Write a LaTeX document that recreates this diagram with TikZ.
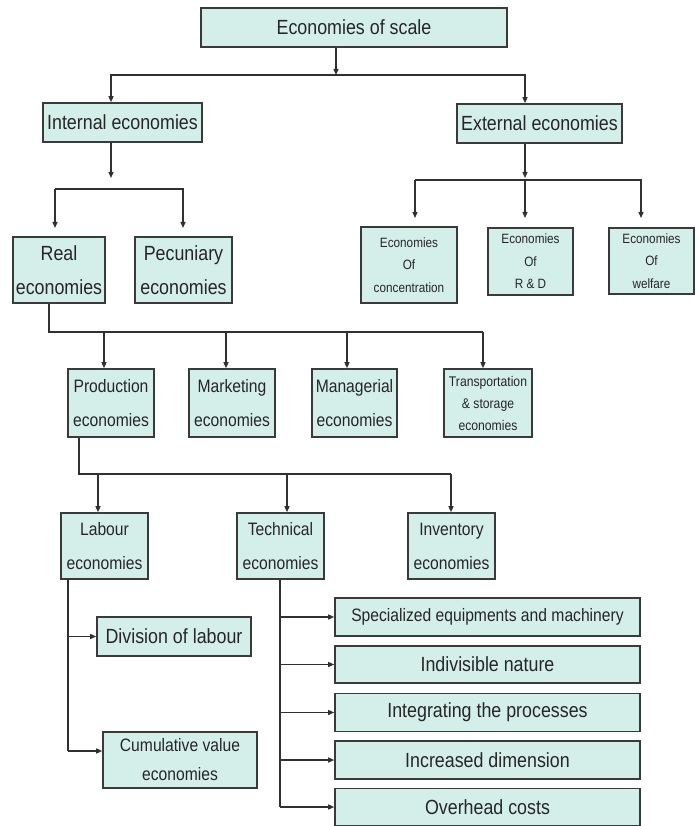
\documentclass[tikz,border=0pt]{standalone}
\usepackage{fontspec}
\setmainfont[FakeStretch=0.87]{Liberation Sans}
\usetikzlibrary{arrows.meta}
\definecolor{boxfill}{HTML}{D4EFEA}
\definecolor{boxline}{HTML}{3A3A3A}
\definecolor{conn}{HTML}{303030}
\tikzset{
  box/.style={draw=boxline, fill=boxfill, line width=1.6pt, inner sep=0pt, align=center, text=black!85},
  bigf/.style={font=\fontsize{20.5}{34}\selectfont},
  midf/.style={font=\fontsize{18}{34}\selectfont},
  smallf/.style={font=\fontsize{13.5}{22.5}\selectfont},
  line/.style={draw=conn, line width=1.3pt},
  arr/.style={line, -{Triangle[length=6pt,width=5pt]}}
}
\begin{document}
\begin{tikzpicture}[x=1pt,y=-1pt]
\useasboundingbox (0,0) rectangle (698,826);
% nodes
\node[box,bigf,minimum width=306pt,minimum height=39pt] (top) at (354,27.5) {Economies of scale};
\node[box,bigf,minimum width=159pt,minimum height=39pt] (intl) at (122.5,122.5) {Internal economies};
\node[box,bigf,minimum width=165pt,minimum height=39pt] (ext) at (539.5,123.5) {External economies};
\node[box,bigf,minimum width=92pt,minimum height=66pt] (real) at (59,270) {Real\\economies};
\node[box,bigf,minimum width=97pt,minimum height=66pt] (pec) at (183.5,270) {Pecuniary\\economies};
\node[box,smallf,minimum width=96pt,minimum height=76pt] (conc) at (409,265) {Economies\\Of\\concentration};
\node[box,smallf,minimum width=85pt,minimum height=67pt] (rd) at (530.5,261.5) {Economies\\Of\\R \& D};
\node[box,smallf,minimum width=85pt,minimum height=66pt] (welf) at (651.5,261) {Economies\\Of\\welfare};
\node[box,midf,minimum width=86pt,minimum height=68pt] (prod) at (111,403) {Production\\economies};
\node[box,midf,minimum width=86pt,minimum height=68pt] (mkt) at (232,403) {Marketing\\economies};
\node[box,midf,minimum width=85pt,minimum height=68pt] (mgr) at (354.5,403) {Managerial\\economies};
\node[box,font=\fontsize{14}{22}\selectfont,minimum width=88pt,minimum height=68pt] (trans) at (488,403) {Transportation\\\& storage\\economies};
\node[box,midf,minimum width=87pt,minimum height=66pt] (lab) at (104.5,546) {Labour\\economies};
\node[box,midf,minimum width=87pt,minimum height=66pt] (tech) at (280.5,546) {Technical\\economies};
\node[box,midf,minimum width=87pt,minimum height=66pt] (inv) at (451.5,546) {Inventory\\economies};
\node[box,bigf,minimum width=154pt,minimum height=39pt] (div) at (174,636.5) {Division of labour};
\node[box,font=\fontsize{18}{29}\selectfont,minimum width=154pt,minimum height=56pt] (cum) at (180,760) {Cumulative value\\economies};
\node[box,midf,minimum width=305pt,minimum height=38pt] (s1) at (487.5,617) {Specialized equipments and machinery};
\node[box,bigf,minimum width=305pt,minimum height=37pt] (s2) at (487.5,664.5) {Indivisible nature};
\node[box,bigf,minimum width=305pt,minimum height=38pt] (s3) at (487.5,712.5) {Integrating the processes};
\node[box,bigf,minimum width=305pt,minimum height=38pt] (s4) at (487.5,760) {Increased dimension};
\node[box,bigf,minimum width=305pt,minimum height=37pt] (s5) at (487.5,807) {Overhead costs};
% junction coordinates
\coordinate (j0) at (336,75);
\coordinate (jl) at (111,75);
\coordinate (ji) at (111,178);
\coordinate (jil) at (55,189);
\coordinate (jir) at (183,189);
\coordinate (je) at (525,178);
\coordinate (jel) at (415,180);
\coordinate (jem) at (525,180);
\coordinate (jer) at (641,180);
\coordinate (jr) at (49,332);
\coordinate (jr1) at (104,332);
\coordinate (jr2) at (226,332);
\coordinate (jr3) at (347,332);
\coordinate (jr4) at (483,332);
\coordinate (jp) at (79,474);
\coordinate (jp1) at (98,474);
\coordinate (jp2) at (287,474);
\coordinate (jp3) at (451,474);
\coordinate (jlab) at (68,579);
\coordinate (jl1) at (68,636.5);
\coordinate (jl2) at (68,751);
\coordinate (jt) at (280,579);
% connectors
\draw[arr] (top.south -| j0) -- (j0);
\draw[arr] (j0) -- (jl) -- (jl |- intl.north);
\draw[arr] (j0) -| (ext.north -| je);
\draw[arr] (intl.south -| ji) -- (ji);
\draw[arr] (jil) -- (jir) -- ++(0,39);
\draw[arr] (jil) -- ++(0,39);
\draw[arr] (ext.south -| je) -- (je);
\draw[arr] (jel) -- (jer) -- ++(0,38);
\draw[arr] (jel) -- ++(0,38);
\draw[arr] (jem) -- ++(0,38);
\draw[line] (real.south -| jr) -- (jr) -- (jr4);
\draw[arr] (jr1) -- (jr1 |- prod.north);
\draw[arr] (jr2) -- (jr2 |- mkt.north);
\draw[arr] (jr3) -- (jr3 |- mgr.north);
\draw[arr] (jr4) -- (jr4 |- trans.north);
\draw[line] (prod.south -| jp) -- (jp) -- (jp3);
\draw[arr] (jp1) -- (jp1 |- lab.north);
\draw[arr] (jp2) -- (jp2 |- tech.north);
\draw[arr] (jp3) -- (jp3 |- inv.north);
\draw[line] (lab.south -| jlab) -- (jl2);
\draw[arr] (jl1) -- (div.west);
\draw[arr] (jl2) -- (jl2 -| cum.west);
\draw[line] (tech.south -| jt) -- (jt |- s5.west);
\draw[arr] (jt |- s1.west) -- (s1.west);
\draw[arr] (jt |- s2.west) -- (s2.west);
\draw[arr] (jt |- s3.west) -- (s3.west);
\draw[arr] (jt |- s4.west) -- (s4.west);
\draw[arr] (jt |- s5.west) -- (s5.west);
\end{tikzpicture}
\end{document}
